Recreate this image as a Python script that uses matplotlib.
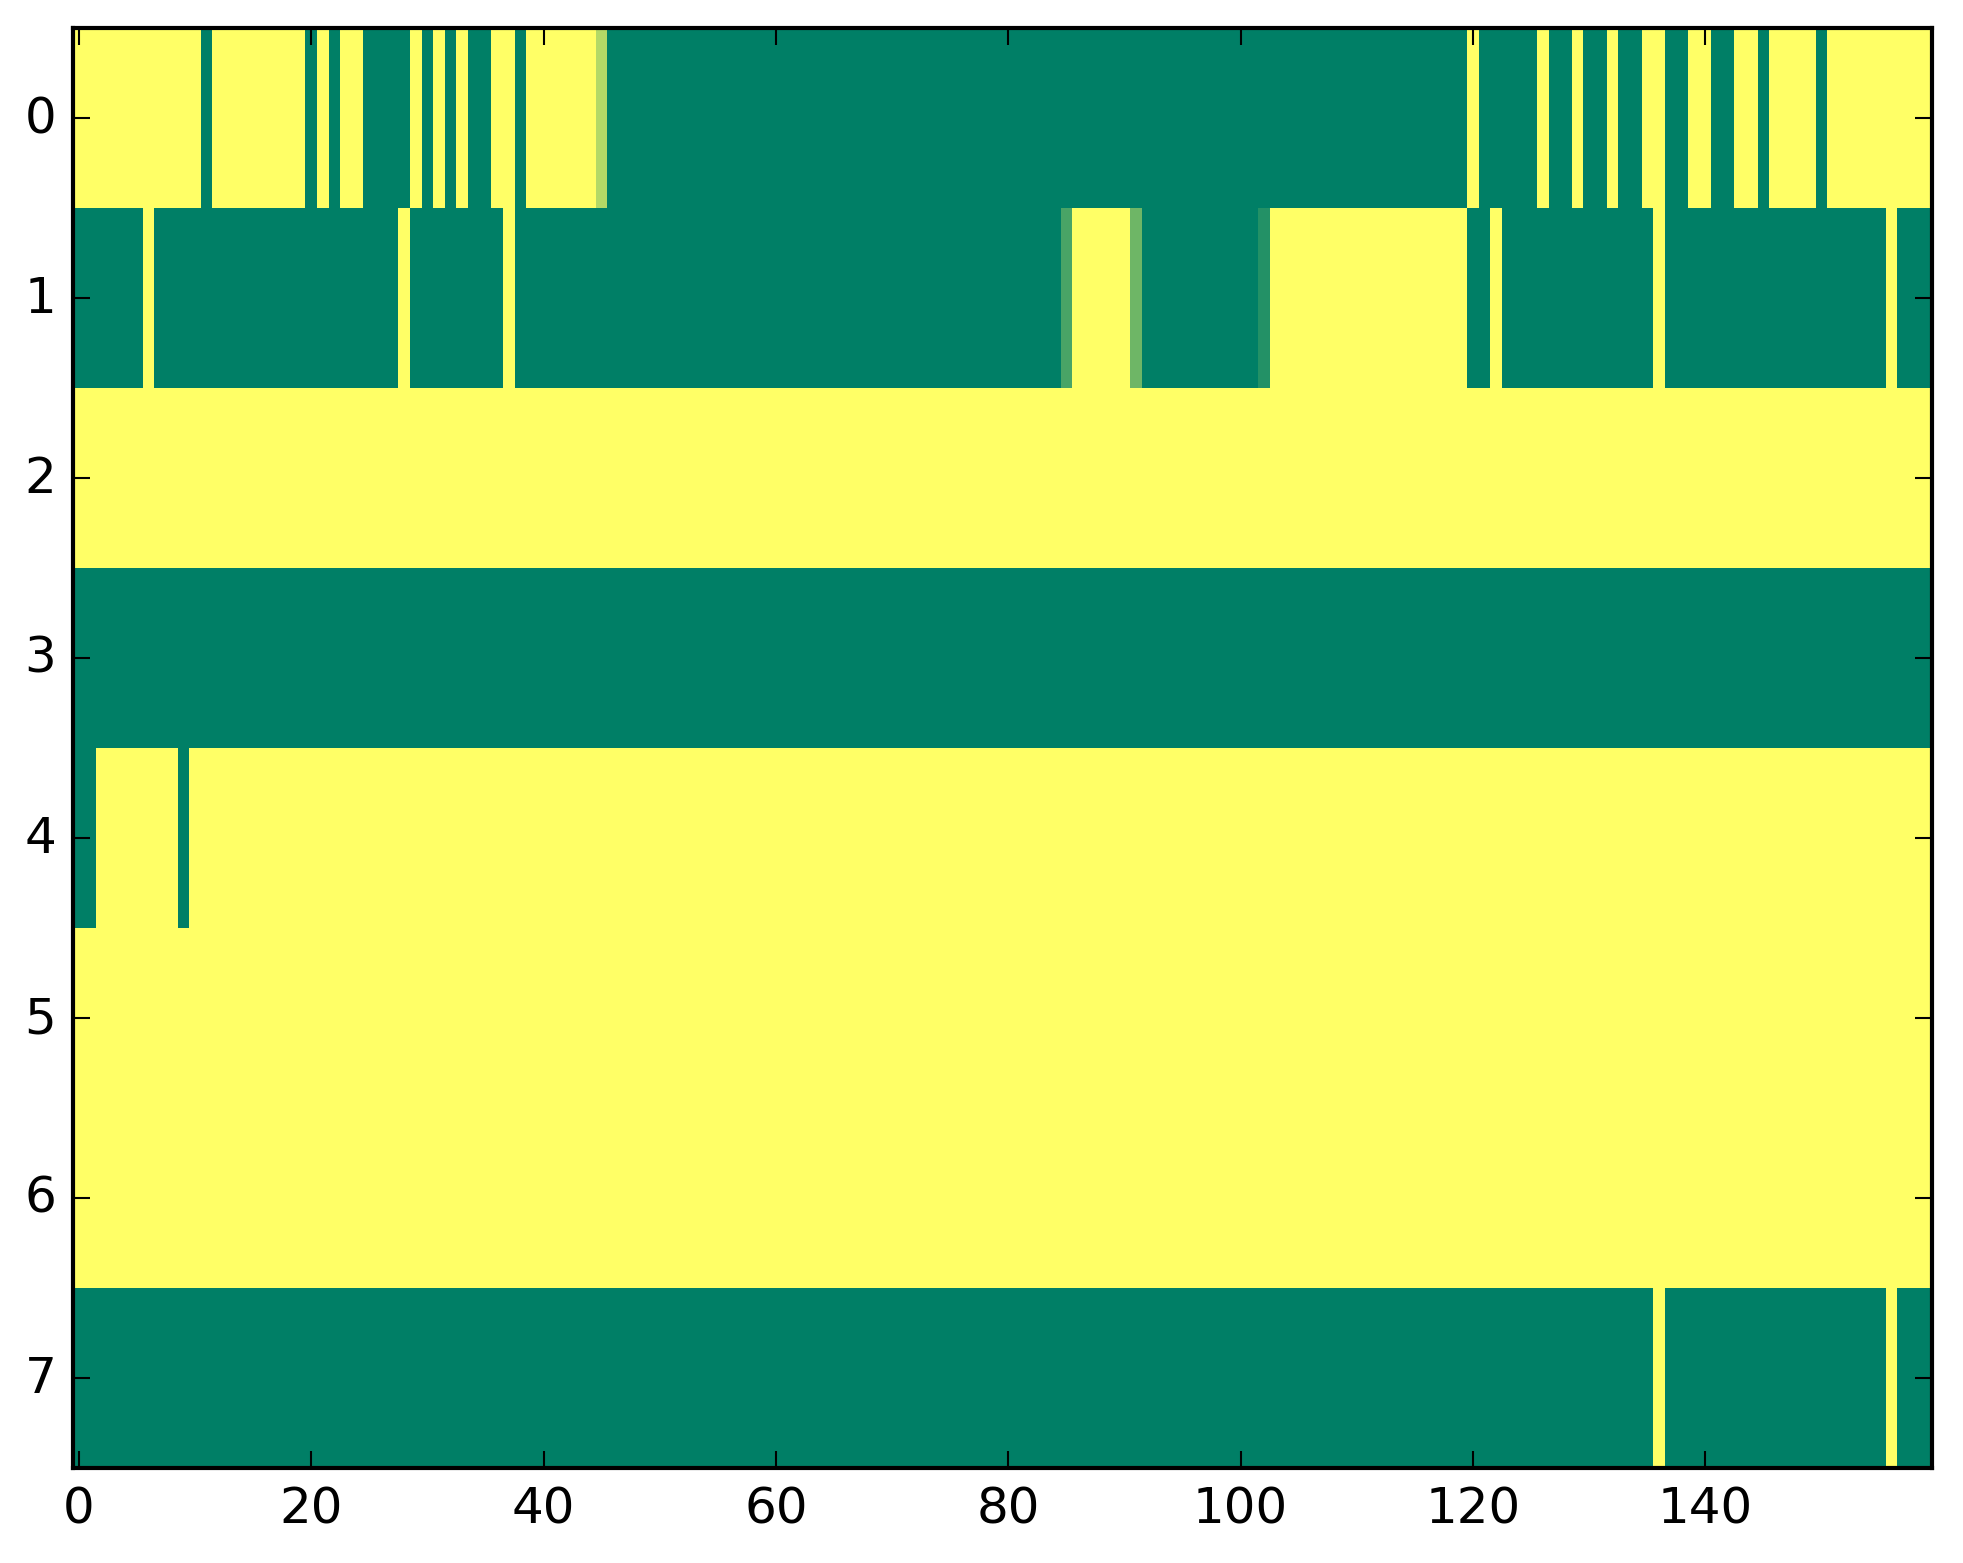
import matplotlib
matplotlib.use("Agg")
import matplotlib.pyplot as plt
import numpy as np

# Each character is one column (160 columns per row).
# '0' -> 0.0 (dark green), '1' -> 1.0 (yellow), letters -> intermediate values
value_codes = {'0': 0.0, '1': 1.0, 'a': 0.70, 'b': 0.29, 'c': 0.43, 'd': 0.14}

row0 = ("11111111111" "0" "11111111" "0" "1" "0" "11" "0000" "1" "0" "1" "0" "1"
        "00" "11" "0" "111111" "a"
        "0000000000" "0000000000" "0000000000" "0000000000" "0000000000"
        "0000000000" "0000000000" "0000"
        "1" "00000" "1" "00" "1" "00" "1" "00" "11" "00" "11" "00" "11" "0" "1111"
        "0" "111111111")
row1 = ("000000" "1" "000000000000000000000" "1" "00000000" "1"
        "0000000000" "0000000000" "0000000000" "0000000000" "0000000"
        "b" "11111" "c" "0000000000" "d"
        "11111111111111111"
        "00" "1" "0000000000000" "1" "0000000000000000000" "1" "000")
row2 = "1" * 160
row3 = "0" * 160
row4 = "00" "1111111" "0" + "1" * 150
row5 = "1" * 160
row6 = "1" * 160
row7 = "0" * 136 + "1" + "0" * 19 + "1" + "000"

rows = [row0, row1, row2, row3, row4, row5, row6, row7]
for r in rows:
    assert len(r) == 160, len(r)

data = np.array([[value_codes[ch] for ch in r] for r in rows])

xticks = list(range(0, 160, 20))
yticks = list(range(8))

plt.style.use('classic')
plt.rcParams['font.family'] = ['DejaVu Sans']
plt.rcParams['font.size'] = 12

W, H, DPI = 1963, 1564, 300
fig = plt.figure(figsize=(W / DPI, H / DPI), dpi=DPI, facecolor='white')
ax = fig.add_axes([73 / W, 95 / H, 1859 / W, 1440 / H])
ax.imshow(data, cmap='summer', aspect='auto', interpolation='nearest',
          vmin=0, vmax=1)
ax.set_xticks(xticks)
ax.set_yticks(yticks)
ax.set_xlim(-0.5, 159.5)
ax.set_ylim(7.5, -0.5)

fig.savefig("out.png", dpi=DPI, facecolor='white')
